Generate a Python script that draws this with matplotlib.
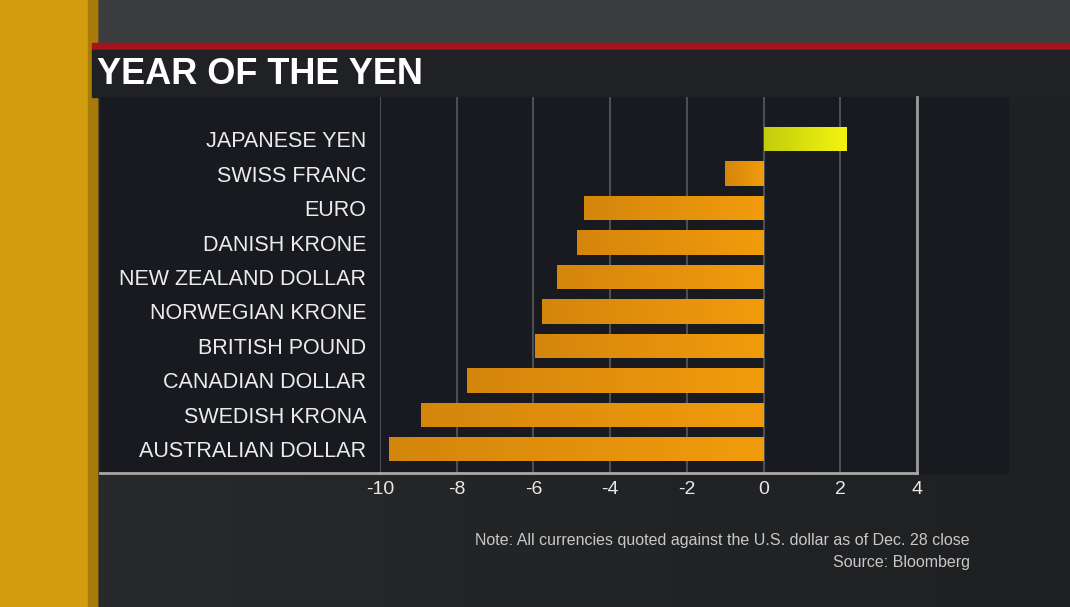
import numpy as np
import matplotlib
matplotlib.use("Agg")
import matplotlib.pyplot as plt
from matplotlib.patches import Rectangle

# data (percent change vs USD)
currencies = ["JAPANESE YEN", "SWISS FRANC", "EURO", "DANISH KRONE",
              "NEW ZEALAND DOLLAR", "NORWEGIAN KRONE", "BRITISH POUND",
              "CANADIAN DOLLAR", "SWEDISH KRONA", "AUSTRALIAN DOLLAR"]
changes = [2.15, -1.0, -4.67, -4.86, -5.38, -5.77, -5.97, -7.74, -8.94, -9.77]
x_ticks = [-10, -8, -6, -4, -2, 0, 2, 4]

plt.rcParams['font.family'] = ['Liberation Sans', 'DejaVu Sans']

W, H = 1070, 607
fig = plt.figure(figsize=(W / 100, H / 100), dpi=100)

# background / TV frame, in pixel coords
bg = fig.add_axes([0, 0, 1, 1])
bg.set_xlim(0, W)
bg.set_ylim(H, 0)
bg.axis("off")

# dark backdrop, slightly lighter towards the lower left
gx = np.linspace(0, 1, 256).reshape(1, -1)
bgcm = matplotlib.colors.LinearSegmentedColormap.from_list(
    "bgc", ["#2a2b2c", "#232426", "#1f2022"])
bg.imshow(gx, extent=[0, W, H, 0], cmap=bgcm, aspect="auto", zorder=0)
bg.add_patch(Rectangle((0, 0), W, 44, color="#3a3c3d", zorder=1))
bg.add_patch(Rectangle((0, 0), 97, H, color="#d29c0f", zorder=1))
bg.add_patch(Rectangle((88, 0), 9, H, color="#a87a08", zorder=1))
bg.add_patch(Rectangle((92, 43), W - 92, 7, color="#a8121c", zorder=2))
bg.add_patch(Rectangle((92, 50), W - 92, 47, color="#1f2124", zorder=2))
bg.add_patch(Rectangle((100, 97), 908, 376, color="#181a1f", zorder=2))
bg.plot([100, 380], [472.5, 472.5], color="#a8a8a8", lw=2, zorder=3)

bg.text(97, 74, "YEAR OF THE YEN", color="white", fontsize=26, fontweight="bold",
        va="center", ha="left", zorder=4)
bg.text(970, 541, "Note: All currencies quoted against the U.S. dollar as of Dec. 28 close",
        color="#c8c8c8", fontsize=11.5, ha="right", va="center", zorder=4)
bg.text(970, 562, "Source: Bloomberg", color="#c8c8c8", fontsize=11.5,
        ha="right", va="center", zorder=4)

# chart axes
ax = fig.add_axes([380 / W, 1 - 472.5 / H, (917 - 380) / W, (472.5 - 97) / H])
ax.set_facecolor("none")
y = np.arange(len(currencies))[::-1]
bars = ax.barh(y, changes, height=0.7, color="none", zorder=3)
ax.set_xlim(-10, 4)
ax.set_ylim(-0.67, len(currencies) - 1 + 1.22)

orange = matplotlib.colors.LinearSegmentedColormap.from_list("o", ["#d4860c", "#f29b0c"])
yellow = matplotlib.colors.LinearSegmentedColormap.from_list("y", ["#c2cc0c", "#f2f512"])
g = np.linspace(0, 1, 200).reshape(1, -1)
for b, v in zip(bars, changes):
    x0, x1 = sorted([b.get_x(), b.get_x() + b.get_width()])
    yb, hb = b.get_y(), b.get_height()
    cm = yellow if v > 0 else orange
    im = ax.imshow(g, extent=[x0, x1, yb, yb + hb], cmap=cm, aspect="auto", zorder=3)
    im.set_clip_path(b)

ax.set_xticks(x_ticks)
ax.set_xticklabels([str(t) for t in x_ticks], color="#e8e8e8", fontsize=14)
ax.set_yticks(y)
ax.set_yticklabels(currencies, color="#ececec", fontsize=15.5)
ax.tick_params(length=0)
ax.tick_params(axis="y", pad=10)
ax.tick_params(axis="x", pad=6)
ax.grid(axis="x", color="#4c4e52", lw=1.5, zorder=1)
for s in ["top", "left"]:
    ax.spines[s].set_visible(False)
ax.spines["bottom"].set_color("#a8a8a8")
ax.spines["bottom"].set_linewidth(2)
ax.spines["right"].set_color("#9a9a9a")
ax.spines["right"].set_linewidth(2)

fig.savefig("out.png", dpi=100)
